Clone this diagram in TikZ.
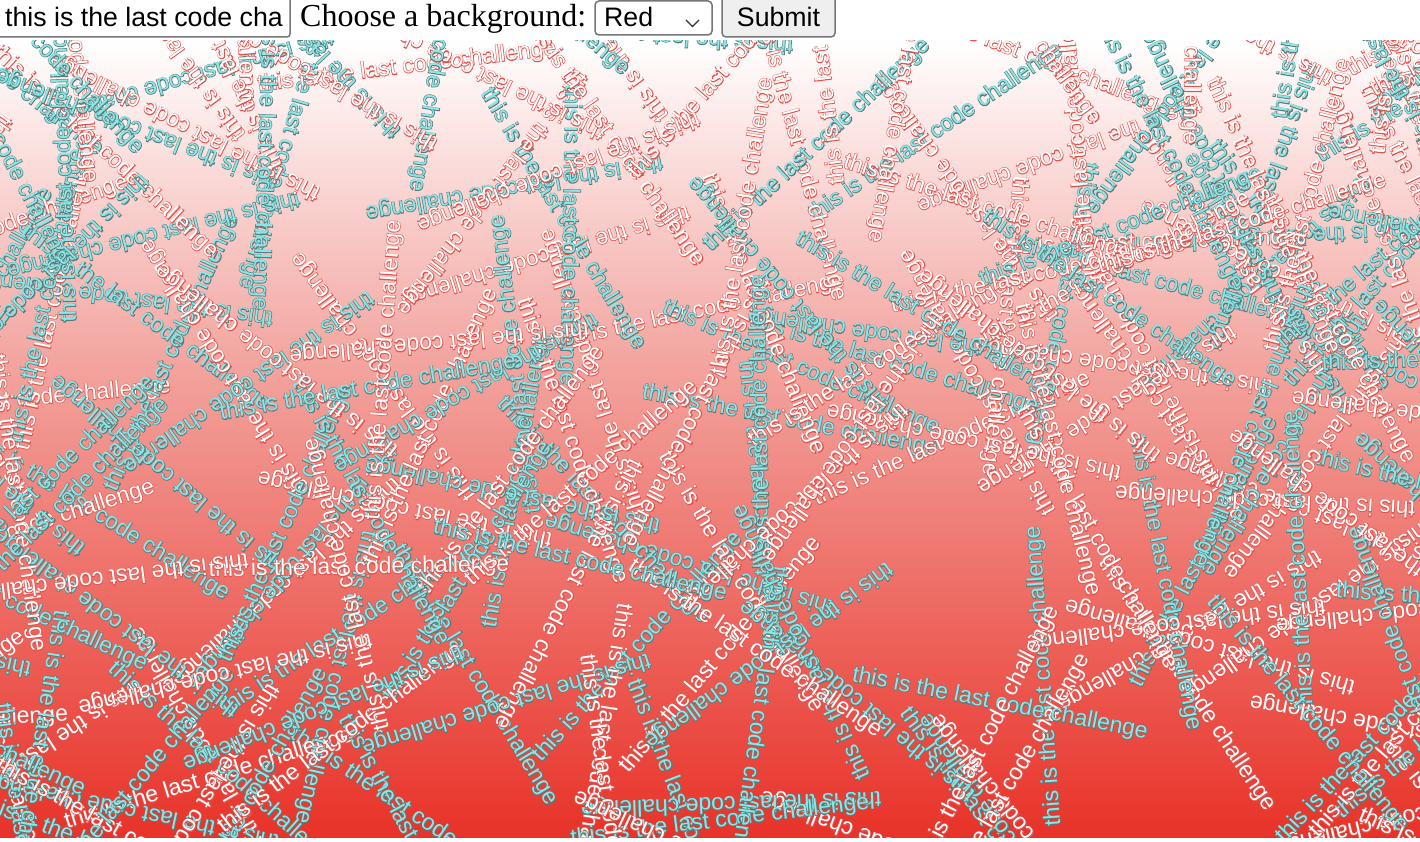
\documentclass[tikz,border=0pt]{standalone}
\usepackage{fontspec}
\setmainfont{Liberation Serif}
\newfontfamily\arialf{Liberation Sans}
\definecolor{bgred}{RGB}{232,50,40}
\definecolor{bgmid}{RGB}{243,165,160}
\definecolor{cyantxt}{RGB}{138,232,232}
\definecolor{btngray}{RGB}{239,239,239}
\definecolor{brdgray}{RGB}{118,118,118}
\pgfdeclareverticalshading{pagebg}{100bp}{color(0bp)=(bgred); color(25bp)=(bgred); color(55bp)=(bgmid); color(75bp)=(white); color(100bp)=(white)}
\newcommand\phrase{this is the last code challenge}
\newcommand\ltxt[1]{\rlap{\special{pdf:literal direct 1 Tr 1.2 w #1 RG}\phrase\special{pdf:literal direct 0 Tr}}\phrase}
\tikzset{
  wtxt/.style={font=\arialf\fontsize{23}{23}\selectfont, text=white, inner sep=0pt},
  ctxt/.style={font=\arialf\fontsize{23}{23}\selectfont, text=cyantxt, inner sep=0pt},
  uifont/.style={font=\arialf\fontsize{26.7}{30}\selectfont, inner sep=0pt},
  boxline/.style={draw=brdgray, line width=1.5pt},
}
\begin{document}
\begin{tikzpicture}[x=1pt,y=1pt]
\useasboundingbox (0,0) rectangle (1420,842);
\fill[white] (0,0) rectangle (1420,842);
\shade[shading=pagebg] (0,4) rectangle (1420,802);
\begin{scope}
\clip (0,4) rectangle (1420,802);
\pgfmathsetseed{2024}
\foreach \i in {1,...,250}{
  \pgfmathsetmacro\px{random(-120,1540)}
  \pgfmathsetmacro\py{random(-40,880)}
  \pgfmathsetmacro\pr{random(0,359)}
  \pgfmathrandominteger{\pc}{0}{1}
  \ifnum\pc=0
    \node[wtxt, rotate=\pr] (t\i) at (\px,\py) {\ltxt{0.88 0.33 0.31}};
  \else
    \node[ctxt, rotate=\pr] (t\i) at (\px,\py) {\ltxt{0.36 0.48 0.48}};
  \fi
}
\end{scope}
% top form bar
\fill[white] (0,802) rectangle (1420,842);
\draw[boxline, rounded corners=3pt, fill=white] (-4,805) rectangle (290,846);
\node[uifont, anchor=base west] (inp) at (5,815) {this is the last code cha};
\node[font=\fontsize{32}{36}\selectfont, inner sep=0pt, anchor=base west] (lbl) at (300,815) {Choose a background:};
\draw[boxline, rounded corners=4pt, fill=white] (595,807) rectangle (712,841);
\node[uifont, anchor=base west] (sel) at (604,815) {Red};
\draw[line width=1.2pt, black!80] (686,822) -- (692.5,815.5) -- (699,822);
\draw[boxline, rounded corners=4pt, fill=btngray] (722,805) rectangle (835,846);
\node[uifont, anchor=base] (sub) at (778.5,815) {Submit};
\end{tikzpicture}
\end{document}
